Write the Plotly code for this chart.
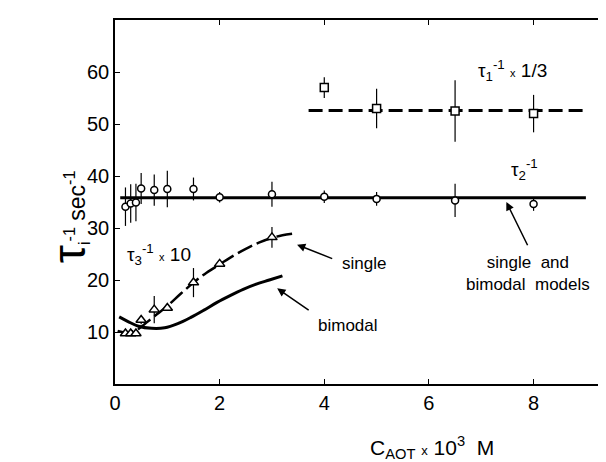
import plotly.graph_objects as go

# tau_2^-1 (circles)
c_tau2 = [0.2, 0.3, 0.4, 0.5, 0.75, 1.0, 1.5, 2.0, 3.0, 4.0, 5.0, 6.5, 8.0]
tau2 = [34.1, 34.7, 34.9, 37.6, 37.3, 37.5, 37.5, 35.9, 36.5, 36.0, 35.6, 35.3, 34.6]
tau2_err = [3.7, 3.7, 3.6, 3.0, 3.0, 3.5, 2.2, 1.0, 2.4, 1.2, 1.3, 3.2, 1.3]

# tau_1^-1 x 1/3 (squares)
c_tau1 = [4.0, 5.0, 6.5, 8.0]
tau1 = [57.0, 53.0, 52.5, 52.0]
tau1_err = [2.0, 3.8, 5.9, 3.6]

# tau_3^-1 x 10 (triangles)
c_tau3 = [0.2, 0.3, 0.4, 0.5, 0.75, 1.0, 1.5, 2.0, 3.0]
tau3 = [9.7, 9.7, 9.7, 12.3, 14.3, 14.6, 19.5, 23.1, 28.2]
tau3_err = [0, 0, 0, 0.8, 2.6, 0, 2.8, 0, 2.0]

# model curves
fit2_x = [0.1, 9.0]
fit2_y = [35.8, 35.8]
fit1_x = [3.7, 9.0]
fit1_y = [52.6, 52.6]
single_x = [0.05, 0.25, 0.45, 0.6, 0.8, 1.0, 1.25, 1.5, 1.75, 2.0, 2.25, 2.5, 2.75, 3.0, 3.2, 3.4]
single_y = [10.2, 9.9, 10.6, 11.8, 13.4, 15.0, 17.3, 19.5, 21.4, 23.0, 24.6, 26.0, 27.2, 28.1, 28.6, 28.9]
bimodal_x = [0.08, 0.25, 0.45, 0.7, 0.95, 1.2, 1.45, 1.7, 1.95, 2.2, 2.45, 2.7, 2.95, 3.2]
bimodal_y = [12.9, 12.0, 11.1, 10.7, 10.8, 11.6, 12.8, 14.2, 15.7, 17.0, 18.2, 19.2, 20.0, 20.8]

FONT = "Liberation Sans, Arial, sans-serif"

fig = go.Figure()

# lines first, markers drawn on top
fig.add_trace(go.Scatter(x=fit2_x, y=fit2_y, mode="lines",
                         line=dict(color="black", width=3)))
fig.add_trace(go.Scatter(x=fit1_x, y=fit1_y, mode="lines",
                         line=dict(color="black", width=3, dash="14px,6px")))
fig.add_trace(go.Scatter(x=single_x, y=single_y, mode="lines", line_shape="spline",
                         line=dict(color="black", width=2.5, dash="16px,5px")))
fig.add_trace(go.Scatter(x=bimodal_x, y=bimodal_y, mode="lines", line_shape="spline",
                         line=dict(color="black", width=3)))


def points(x, y, err, symbol, size):
    return go.Scatter(
        x=x, y=y, mode="markers",
        marker=dict(symbol=symbol, size=size, color="white",
                    line=dict(color="black", width=1.5)),
        error_y=dict(type="data", array=err, visible=True,
                     color="black", thickness=1.2, width=0),
    )


fig.add_trace(points(c_tau2, tau2, tau2_err, "circle", 7))
fig.add_trace(points(c_tau1, tau1, tau1_err, "square", 8))
fig.add_trace(points(c_tau3, tau3, tau3_err, "triangle-up", 9))

# odd bracket on the right edge of the original scan
fig.add_shape(type="line", x0=9.40, x1=9.40, y0=10, y1=20,
              line=dict(color="black", width=1))

tau_font = dict(family=FONT, size=19, color="black")
word_font = dict(family=FONT, size=17, color="black")
small = "<span style='font-size:11px'>x</span>"

fig.add_annotation(x=7.6, y=60.3, text="τ<sub>1</sub><sup>-1</sup> " + small + " 1/3",
                   font=tau_font, showarrow=False)
fig.add_annotation(x=7.83, y=41.2, text="τ<sub>2</sub><sup>-1</sup>",
                   font=tau_font, showarrow=False)
fig.add_annotation(x=0.85, y=25.0, text="τ<sub>3</sub><sup>-1</sup> " + small + " 10",
                   font=tau_font, showarrow=False)
fig.add_annotation(x=4.75, y=23.2, text="single", font=word_font, showarrow=False)
fig.add_annotation(x=4.45, y=11.2, text="bimodal", font=word_font, showarrow=False)
fig.add_annotation(x=7.9, y=21.2, text="single&nbsp;&nbsp;and<br>bimodal&nbsp;&nbsp;models",
                   font=word_font, showarrow=False)

arrow = dict(text="", showarrow=True, arrowhead=2, arrowsize=1.1, arrowwidth=1.5,
             arrowcolor="black", axref="x", ayref="y")
fig.add_annotation(x=3.48, y=26.8, ax=4.18, ay=24.0, **arrow)
fig.add_annotation(x=3.10, y=18.4, ax=3.73, ay=14.0, **arrow)
fig.add_annotation(x=7.48, y=35.0, ax=7.90, ay=26.4, **arrow)

# axis titles
fig.add_annotation(
    xref="paper", yref="paper", x=-0.15, y=0.46, textangle=-90, showarrow=False,
    text="<span style='font-size:46px'>τ</span><sub>i</sub><sup>-1</sup> sec<sup>-1</sup>",
    font=dict(family=FONT, size=23, color="black"),
)
fig.add_annotation(
    xref="paper", yref="paper", x=0.64, y=-0.175, yanchor="middle", showarrow=False,
    text="C<sub>AOT</sub> <span style='font-size:13px'>x</span> 10<sup>3</sup>  M",
    font=dict(family=FONT, size=21, color="black"),
)

axis_common = dict(showline=True, linecolor="black", linewidth=1.5, mirror="ticks",
                   ticks="inside", ticklen=5, tickwidth=1.2, tickcolor="black",
                   showgrid=False, zeroline=False,
                   tickfont=dict(family=FONT, size=20, color="black"))

fig.update_xaxes(range=[0, 9.48], tickvals=[0, 2, 4, 6, 8], **axis_common)
fig.update_yaxes(range=[0, 70], tickvals=[10, 20, 30, 40, 50, 60], **axis_common)

fig.update_layout(
    width=606, height=462,
    margin=dict(l=107, r=1, t=12, b=86),
    paper_bgcolor="white", plot_bgcolor="white",
    showlegend=False,
)

fig.write_html("out.html")
